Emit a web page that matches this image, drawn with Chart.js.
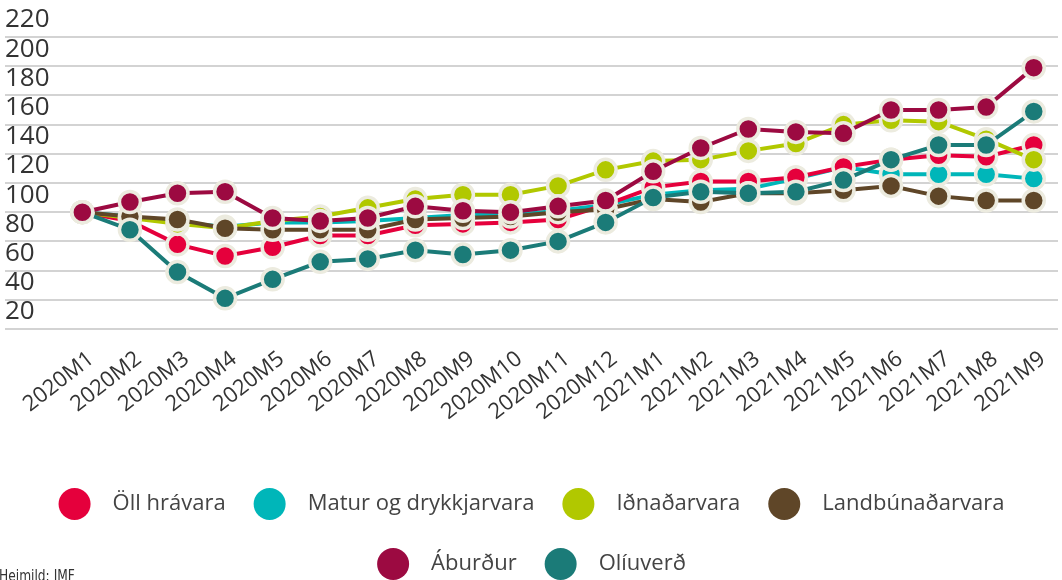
<!DOCTYPE html>
<html>
<head>
<meta charset="utf-8">
<script src="https://cdn.jsdelivr.net/npm/chart.js@4/dist/chart.umd.min.js"></script>
<style>
  html, body { margin: 0; padding: 0; background: #fff; }
  #wrap { width: 1062px; height: 580px; }
</style>
</head>
<body>
<div id="wrap"><canvas id="chart" width="1062" height="580"></canvas></div>
<script>
// tímabil (mánuðir)
const labels = [
    '2020M1','2020M2','2020M3','2020M4','2020M5','2020M6','2020M7','2020M8','2020M9','2020M10','2020M11','2020M12',
    '2021M1','2021M2','2021M3','2021M4','2021M5','2021M6','2021M7','2021M8','2021M9'
];
const yTicks = [20, 40, 60, 80, 100, 120, 140, 160, 180, 200, 220];

// vísitölur, 2020M1 = 100
const ollHravara      = [100, 94, 78, 70, 76, 84, 84, 91, 92, 93, 95, 105, 117, 121, 121, 124, 131, 136, 139, 138, 146];
const maturDrykkir    = [100, 97, 93, 90, 93, 93, 94, 96, 98, 98, 101, 105, 112, 115, 116, 123, 131, 126, 126, 126, 123];
const idnadarvara     = [100, 96, 92, 89, 94, 97, 103, 109, 112, 112, 118, 129, 135, 136, 142, 147, 160, 163, 162, 150, 136];
const landbunadarvara = [100, 97, 95, 89, 88, 88, 88, 95, 96, 97, 100, 102, 109, 107, 113, 113, 115, 118, 111, 108, 108];
const aburdur         = [100, 107, 113, 114, 96, 94, 96, 104, 101, 100, 104, 108, 128, 144, 157, 155, 154, 170, 170, 172, 199];
const oliuverd        = [100, 88, 59, 41, 54, 66, 68, 74, 71, 74, 80, 93, 110, 114, 113, 114, 122, 136, 146, 146, 169];

const seriesNames = ['Öll hrávara', 'Matur og drykkjarvara', 'Iðnaðarvara', 'Landbúnaðarvara', 'Áburður', 'Olíuverð'];
const seriesData = [ollHravara, maturDrykkir, idnadarvara, landbunadarvara, aburdur, oliuverd];
const colors = ['#e5003c', '#00b6b9', '#b1c800', '#5f4628', '#9c0a41', '#1b7b78'];
const drawOrder = [5, 6, 4, 3, 1, 2]; // lægri tala teiknast efst
const cream = '#ecebdf';
const fontFamily = "'Open Sans', 'Noto Sans', sans-serif";

const datasets = seriesNames.map((name, k) => ({
    label: name,
    data: seriesData[k].map((v, i) => ({x: i, y: v})),
    borderColor: colors[k],
    backgroundColor: colors[k],
    pointBackgroundColor: colors[k],
    pointBorderColor: cream,
    pointBorderWidth: 3.5,
    pointRadius: 10.5,
    pointHoverRadius: 10.5,
    borderWidth: 4,
    tension: 0,
    order: drawOrder[k]
}));

// heimild neðst til vinstri
const sourceNote = {
    id: 'sourceNote',
    afterDraw(chart) {
        const ctx = chart.ctx;
        ctx.save();
        ctx.font = "16px 'DejaVu Sans Condensed', 'DejaVu Sans', sans-serif";
        ctx.fillStyle = '#333';
        ctx.textBaseline = 'alphabetic';
        ctx.translate(-1, 581);
        ctx.scale(0.85, 1);
        ctx.fillText('Heimild: IMF', 0, 0);
        ctx.restore();
    }
};

new Chart(document.getElementById('chart'), {
    type: 'line',
    data: { datasets: datasets },
    options: {
        responsive: false,
        animation: false,
        layout: {
            autoPadding: false,
            padding: { top: 37, left: 5, right: 4, bottom: -10 }
        },
        scales: {
            x: {
                type: 'linear',
                min: -1.626,
                max: 20.51,
                grid: { display: false, drawTicks: true, tickLength: 17 },
                border: { display: false },
                afterBuildTicks: axis => { axis.ticks = labels.map((l, i) => ({ value: i })); },
                afterFit: axis => {
                    axis.height = 131;
                    axis.paddingLeft = 0;
                    axis.paddingRight = 0;
                },
                ticks: {
                    autoSkip: false,
                    minRotation: 38,
                    maxRotation: 38,
                    padding: 0,
                    labelOffset: 9,
                    color: '#333',
                    font: { family: fontFamily, size: 22 },
                    callback: value => labels[value]
                }
            },
            y: {
                min: 20,
                max: 220,
                afterBuildTicks: axis => { axis.ticks = yTicks.map(v => ({ value: v })); },
                grid: { color: '#d3d3d3', lineWidth: 2, drawTicks: false },
                border: { display: false },
                ticks: {
                    autoSkip: false,
                    mirror: true,
                    padding: 0,
                    labelOffset: -17,
                    color: '#333',
                    font: { family: fontFamily, size: 26 }
                }
            }
        },
        plugins: {
            tooltip: { enabled: false },
            legend: {
                position: 'bottom',
                labels: {
                    boxWidth: 32,
                    boxHeight: 32,
                    useBorderRadius: true,
                    borderRadius: 16,
                    padding: 28,
                    color: '#444',
                    font: { family: fontFamily, size: 22 },
                    sort: (a, b) => a.datasetIndex - b.datasetIndex,
                    generateLabels: chart => Chart.defaults.plugins.legend.labels.generateLabels(chart).map(item => {
                        item.text = '\u2002' + item.text;
                        item.lineWidth = 0;
                        item.borderRadius = 16;
                        return item;
                    })
                }
            }
        }
    },
    plugins: [sourceNote]
});
</script>
</body>
</html>
